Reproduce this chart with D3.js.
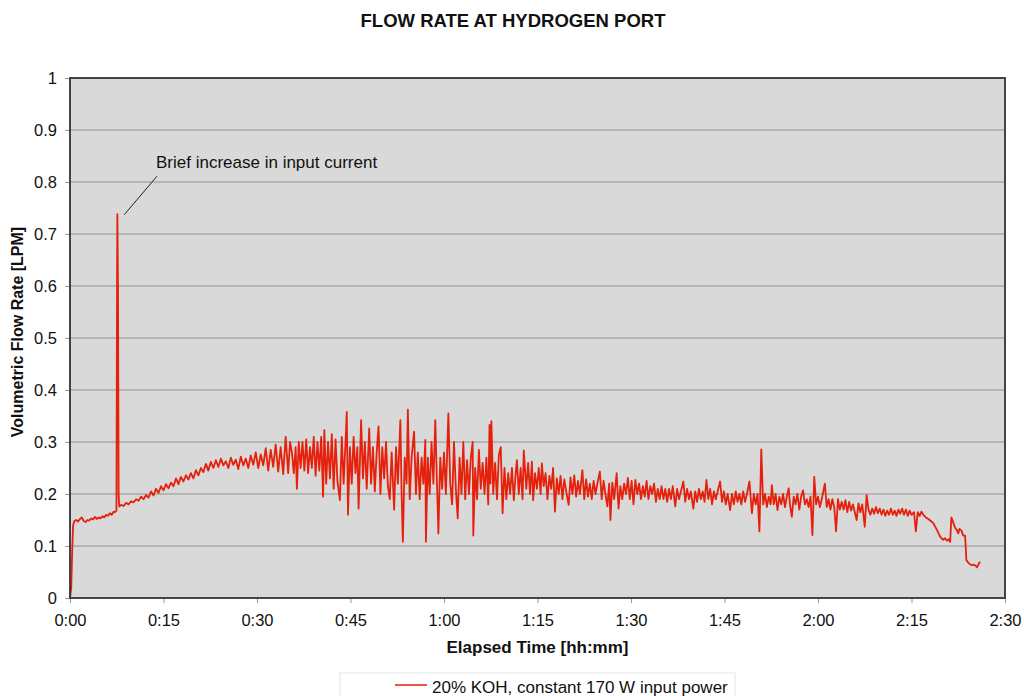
<!DOCTYPE html>
<html>
<head>
<meta charset="utf-8">
<script src="https://cdn.jsdelivr.net/npm/d3@7"></script>
<style>
  body { margin: 0; background: #fff; }
  svg { display: block; font-family: "Liberation Sans", Arial, sans-serif; }
</style>
</head>
<body>
<svg id="chart" width="1024" height="696"></svg>
<script>
// elapsed time [min], flow rate [LPM]
const flowReadings = [
  [0, 0], [0.2, 0.02], [0.35, 0.09], [0.5, 0.14], [0.7, 0.148], [1.0, 0.15], [1.3, 0.147], [1.6, 0.152],
  [1.9, 0.155], [2.2, 0.148], [2.5, 0.146], [2.8, 0.15], [3.1, 0.149], [3.4, 0.153], [3.7, 0.151], [4.0, 0.156],
  [4.3, 0.152], [4.6, 0.155], [4.9, 0.153], [5.2, 0.157], [5.5, 0.155], [5.8, 0.16], [6.1, 0.158], [6.4, 0.163],
  [6.7, 0.16], [7.0, 0.166], [7.2, 0.165], [7.45, 0.168], [7.55, 0.62], [7.6, 0.738], [7.7, 0.6], [7.8, 0.2],
  [7.9, 0.176], [8.2, 0.179], [8.6, 0.177], [9.0, 0.183], [9.4, 0.18], [9.8, 0.186], [10.2, 0.184], [10.6, 0.19],
  [11.0, 0.187], [11.4, 0.195], [11.8, 0.19], [12.2, 0.198], [12.6, 0.193], [13.0, 0.205], [13.4, 0.197], [13.8, 0.21],
  [14.2, 0.202], [14.6, 0.215], [15.0, 0.207], [15.4, 0.219], [15.8, 0.211], [16.2, 0.222], [16.6, 0.215], [17.0, 0.23],
  [17.4, 0.219], [17.8, 0.233], [18.2, 0.224], [18.6, 0.236], [19.0, 0.228], [19.4, 0.24], [19.8, 0.23], [20.2, 0.246],
  [20.6, 0.236], [21.0, 0.25], [21.4, 0.242], [21.8, 0.258], [22.2, 0.245], [22.6, 0.262], [23.0, 0.25], [23.4, 0.265],
  [23.8, 0.252], [24.2, 0.268], [24.6, 0.255], [25.0, 0.263], [25.4, 0.25], [25.8, 0.27], [26.2, 0.256], [26.6, 0.266],
  [27.0, 0.248], [27.4, 0.272], [27.8, 0.255], [28.2, 0.268], [28.6, 0.25], [29.0, 0.274], [29.4, 0.256], [29.8, 0.28],
  [30.2, 0.25], [30.6, 0.276], [31.0, 0.255], [31.4, 0.288], [31.8, 0.245], [32.2, 0.285], [32.6, 0.252], [33.0, 0.295],
  [33.4, 0.243], [33.8, 0.29], [34.2, 0.238], [34.6, 0.31], [35.0, 0.24], [35.3, 0.3], [35.6, 0.28], [35.9, 0.24],
  [36.2, 0.29], [36.4, 0.21], [36.7, 0.3], [37.0, 0.25], [37.3, 0.3], [37.6, 0.245], [37.9, 0.305], [38.2, 0.24],
  [38.5, 0.29], [38.8, 0.25], [39.1, 0.31], [39.4, 0.235], [39.7, 0.3], [40.0, 0.245], [40.3, 0.31], [40.6, 0.195],
  [40.8, 0.323], [41.1, 0.22], [41.4, 0.3], [41.7, 0.23], [42.0, 0.315], [42.3, 0.21], [42.6, 0.305], [42.9, 0.225],
  [43.3, 0.188], [43.6, 0.31], [43.9, 0.22], [44.2, 0.3], [44.4, 0.358], [44.6, 0.16], [44.9, 0.29], [45.2, 0.22],
  [45.5, 0.31], [45.8, 0.24], [46.1, 0.29], [46.3, 0.172], [46.7, 0.342], [47.0, 0.23], [47.3, 0.3], [47.6, 0.21],
  [48.0, 0.326], [48.3, 0.22], [48.6, 0.29], [48.9, 0.205], [49.2, 0.28], [49.5, 0.33], [49.8, 0.2], [50.1, 0.29],
  [50.4, 0.23], [50.7, 0.3], [51.0, 0.215], [51.3, 0.19], [51.6, 0.28], [52.0, 0.17], [52.3, 0.29], [52.6, 0.22],
  [53.0, 0.342], [53.2, 0.2], [53.4, 0.108], [53.7, 0.27], [54.0, 0.22], [54.2, 0.362], [54.5, 0.19], [54.8, 0.27],
  [55.2, 0.32], [55.5, 0.2], [55.8, 0.28], [56.1, 0.19], [56.4, 0.27], [56.7, 0.22], [57.0, 0.304], [57.1, 0.108],
  [57.4, 0.27], [57.7, 0.2], [58.0, 0.3], [58.3, 0.22], [58.6, 0.342], [58.9, 0.21], [59.1, 0.124], [59.4, 0.27],
  [59.7, 0.21], [60.0, 0.28], [60.3, 0.2], [60.7, 0.355], [61.0, 0.22], [61.3, 0.18], [61.6, 0.3], [61.9, 0.21],
  [62.2, 0.153], [62.5, 0.27], [62.8, 0.2], [63.1, 0.3], [63.4, 0.19], [63.7, 0.265], [64.0, 0.2], [64.3, 0.27],
  [64.6, 0.3], [64.7, 0.12], [65.0, 0.25], [65.3, 0.19], [65.6, 0.285], [65.9, 0.21], [66.2, 0.26], [66.5, 0.2],
  [66.8, 0.27], [67.1, 0.18], [67.3, 0.333], [67.45, 0.22], [67.6, 0.34], [67.9, 0.2], [68.2, 0.26], [68.5, 0.19],
  [68.8, 0.275], [69.1, 0.29], [69.4, 0.163], [69.7, 0.25], [70.0, 0.19], [70.3, 0.24], [70.6, 0.2], [70.9, 0.25],
  [71.2, 0.188], [71.5, 0.24], [71.7, 0.265], [72.0, 0.2], [72.3, 0.25], [72.6, 0.19], [72.8, 0.284], [73.2, 0.21],
  [73.5, 0.26], [73.8, 0.2], [74.1, 0.262], [74.3, 0.188], [74.6, 0.24], [74.9, 0.21], [75.2, 0.25], [75.5, 0.2],
  [75.7, 0.259], [76.0, 0.215], [76.3, 0.24], [76.6, 0.19], [76.9, 0.235], [77.2, 0.21], [77.5, 0.25], [77.8, 0.166],
  [78.1, 0.23], [78.4, 0.2], [78.7, 0.235], [79.0, 0.19], [79.3, 0.228], [79.6, 0.205], [80.0, 0.179], [80.3, 0.232],
  [80.6, 0.2], [80.9, 0.236], [81.2, 0.195], [81.5, 0.225], [81.8, 0.2], [82.2, 0.246], [82.5, 0.19], [82.8, 0.228],
  [83.1, 0.195], [83.4, 0.22], [83.7, 0.19], [84.0, 0.225], [84.3, 0.2], [84.6, 0.22], [85.0, 0.243], [85.3, 0.19],
  [85.6, 0.225], [85.9, 0.2], [86.2, 0.176], [86.5, 0.22], [86.7, 0.15], [87.0, 0.222], [87.3, 0.19], [87.7, 0.24],
  [88.0, 0.172], [88.3, 0.215], [88.6, 0.19], [88.9, 0.22], [89.2, 0.2], [89.5, 0.231], [89.8, 0.19], [90.1, 0.225],
  [90.4, 0.18], [90.7, 0.227], [91.0, 0.2], [91.3, 0.22], [91.6, 0.19], [91.9, 0.215], [92.2, 0.195], [92.5, 0.225],
  [92.8, 0.19], [93.1, 0.215], [93.4, 0.2], [93.7, 0.22], [94.0, 0.185], [94.3, 0.21], [94.6, 0.19], [94.9, 0.215],
  [95.2, 0.19], [95.5, 0.21], [95.8, 0.185], [96.1, 0.21], [96.4, 0.19], [96.7, 0.215], [97.1, 0.176], [97.4, 0.21],
  [97.7, 0.19], [98.0, 0.205], [98.4, 0.224], [98.7, 0.185], [99.0, 0.21], [99.3, 0.19], [99.6, 0.205], [100.0, 0.172],
  [100.3, 0.205], [100.6, 0.185], [100.9, 0.21], [101.2, 0.19], [101.5, 0.205], [101.8, 0.185], [102.1, 0.227], [102.4, 0.19],
  [102.7, 0.21], [103.0, 0.18], [103.3, 0.205], [103.6, 0.19], [104.0, 0.21], [104.3, 0.224], [104.6, 0.185], [104.9, 0.205],
  [105.2, 0.18], [105.5, 0.2], [105.9, 0.169], [106.2, 0.2], [106.5, 0.18], [106.8, 0.205], [107.1, 0.185], [107.4, 0.2],
  [107.7, 0.18], [108.0, 0.205], [108.3, 0.185], [108.6, 0.2], [109.0, 0.224], [109.4, 0.163], [109.7, 0.2], [110.0, 0.18],
  [110.3, 0.2], [110.6, 0.128], [110.9, 0.286], [111.2, 0.18], [111.5, 0.2], [111.8, 0.175], [112.1, 0.195], [112.4, 0.18],
  [112.6, 0.217], [112.9, 0.18], [113.2, 0.2], [113.5, 0.169], [113.8, 0.195], [114.1, 0.18], [114.4, 0.2], [114.7, 0.175],
  [115.0, 0.195], [115.3, 0.211], [115.5, 0.18], [115.8, 0.156], [116.1, 0.195], [116.4, 0.18], [116.7, 0.2], [117.0, 0.17],
  [117.3, 0.195], [117.6, 0.207], [117.9, 0.18], [118.2, 0.19], [118.5, 0.175], [118.8, 0.195], [119.1, 0.121], [119.4, 0.233],
  [119.7, 0.18], [120.0, 0.195], [120.3, 0.175], [120.6, 0.19], [121.1, 0.22], [121.4, 0.175], [121.7, 0.19], [122.0, 0.17],
  [122.3, 0.19], [122.6, 0.175], [122.9, 0.128], [123.2, 0.19], [123.5, 0.17], [123.8, 0.185], [124.1, 0.17], [124.4, 0.188],
  [124.7, 0.165], [125.0, 0.185], [125.3, 0.168], [125.6, 0.18], [125.9, 0.165], [126.2, 0.15], [126.5, 0.182], [126.8, 0.165],
  [127.1, 0.18], [127.5, 0.137], [127.8, 0.198], [128.1, 0.17], [128.4, 0.16], [128.7, 0.172], [129.0, 0.162], [129.3, 0.175],
  [129.6, 0.163], [129.9, 0.172], [130.2, 0.16], [130.5, 0.17], [130.8, 0.158], [131.1, 0.168], [131.4, 0.16], [131.7, 0.172],
  [132.0, 0.16], [132.3, 0.168], [132.6, 0.158], [132.9, 0.17], [133.2, 0.162], [133.5, 0.172], [133.8, 0.16], [134.1, 0.17],
  [134.4, 0.158], [134.7, 0.168], [135.0, 0.16], [135.4, 0.165], [135.7, 0.128], [136.0, 0.165], [136.3, 0.158], [136.6, 0.166],
  [136.9, 0.16], [137.3, 0.155], [137.7, 0.152], [138.1, 0.148], [138.5, 0.144], [138.9, 0.135], [139.2, 0.128], [139.5, 0.12],
  [139.8, 0.115], [140.1, 0.112], [140.4, 0.115], [140.7, 0.11], [141.0, 0.113], [141.2, 0.108], [141.4, 0.155], [141.7, 0.145],
  [142.0, 0.135], [142.3, 0.13], [142.5, 0.124], [142.7, 0.133], [143.0, 0.13], [143.3, 0.12], [143.6, 0.12], [143.8, 0.073],
  [144.1, 0.068], [144.4, 0.065], [144.7, 0.063], [145.0, 0.064], [145.3, 0.062], [145.5, 0.059], [145.8, 0.066], [146.0, 0.07]
];

const xTickMinutes = [0, 15, 30, 45, 60, 75, 90, 105, 120, 135, 150];
const xTickLabels = ["0:00", "0:15", "0:30", "0:45", "1:00", "1:15", "1:30", "1:45", "2:00", "2:15", "2:30"];
const yTickValues = [0, 0.1, 0.2, 0.3, 0.4, 0.5, 0.6, 0.7, 0.8, 0.9, 1];

const chartTitle = "FLOW RATE AT HYDROGEN PORT";
const xTitle = "Elapsed Time [hh:mm]";
const yTitle = "Volumetric Flow Rate [LPM]";
const seriesName = "20% KOH, constant 170 W input power";
const noteText = "Brief increase in input current";
// leader line: from the label down to the top of the spike [min, LPM]
const notePoint = [8.7, 0.737];
const noteLabel = [13.8, 0.815];

const width = 1024, height = 696;
const margin = {top: 78, right: 19, bottom: 98, left: 70};
const innerW = width - margin.left - margin.right;
const innerH = height - margin.top - margin.bottom;

const svg = d3.select("#chart");
const g = svg.append("g").attr("transform", `translate(${margin.left},${margin.top})`);

const x = d3.scaleLinear().domain([0, 150]).range([0, innerW]);
const y = d3.scaleLinear().domain([0, 1]).range([innerH, 0]);

// plot background
g.append("rect")
  .attr("width", innerW)
  .attr("height", innerH)
  .attr("fill", "#d9d9d9");

// gridlines
g.append("g")
  .selectAll("line")
  .data(yTickValues.filter(d => d > 0 && d < 1))
  .join("line")
  .attr("x1", 0)
  .attr("x2", innerW)
  .attr("y1", d => y(d))
  .attr("y2", d => y(d))
  .attr("stroke", "#a8a8a8")
  .attr("stroke-width", 1.6);

// axes
const xAxis = g.append("g")
  .attr("transform", `translate(0,${innerH})`)
  .call(d3.axisBottom(x)
    .tickValues(xTickMinutes)
    .tickFormat((d, i) => xTickLabels[i])
    .tickSize(5)
    .tickPadding(11));

const yAxis = g.append("g")
  .call(d3.axisLeft(y)
    .tickValues(yTickValues)
    .tickFormat(d => d3.format("")(+d.toFixed(1)))
    .tickSize(5)
    .tickPadding(8));

[xAxis, yAxis].forEach(a => {
  a.select(".domain").remove();
  a.selectAll(".tick line").attr("stroke", "#999").attr("stroke-width", 1);
  a.selectAll(".tick text")
    .attr("fill", "#111")
    .style("font-size", "16.5px")
    .style("font-family", "Liberation Sans, Arial, sans-serif");
});

// the data line
const line = d3.line()
  .x(d => x(d[0]))
  .y(d => y(d[1]));

g.append("path")
  .datum(flowReadings)
  .attr("fill", "none")
  .attr("stroke", "#e5200b")
  .attr("stroke-width", 1.8)
  .attr("stroke-linejoin", "round")
  .attr("d", line);

// plot border
g.append("rect")
  .attr("width", innerW)
  .attr("height", innerH)
  .attr("fill", "none")
  .attr("stroke", "#333")
  .attr("stroke-width", 1.8);

// annotation
g.append("line")
  .attr("x1", x(noteLabel[0]) + 1)
  .attr("y1", y(noteLabel[1]) + 2)
  .attr("x2", x(notePoint[0]))
  .attr("y2", y(notePoint[1]))
  .attr("stroke", "#222")
  .attr("stroke-width", 1);

g.append("text")
  .attr("x", x(noteLabel[0]))
  .attr("y", y(noteLabel[1]) - 6)
  .attr("font-size", 17)
  .attr("fill", "#111")
  .text(noteText);

// titles
svg.append("text")
  .attr("x", width / 2 + 1)
  .attr("y", 27)
  .attr("text-anchor", "middle")
  .attr("font-size", 18.5)
  .attr("font-weight", "bold")
  .attr("fill", "#111")
  .text(chartTitle);

svg.append("text")
  .attr("x", margin.left + innerW / 2)
  .attr("y", 653)
  .attr("text-anchor", "middle")
  .attr("font-size", 17)
  .attr("font-weight", "bold")
  .attr("fill", "#111")
  .text(xTitle);

svg.append("text")
  .attr("transform", `translate(23,${margin.top + innerH / 2 - 6}) rotate(-90)`)
  .attr("text-anchor", "middle")
  .attr("font-size", 16)
  .attr("font-weight", "bold")
  .attr("fill", "#111")
  .text(yTitle);

// legend
const legend = svg.append("g").attr("transform", "translate(340,673)");
legend.append("rect")
  .attr("width", 395)
  .attr("height", 40)
  .attr("fill", "#fff")
  .attr("stroke", "#e4e4e4")
  .attr("stroke-width", 1);
legend.append("line")
  .attr("x1", 55)
  .attr("x2", 87)
  .attr("y1", 12)
  .attr("y2", 12)
  .attr("stroke", "#e5200b")
  .attr("stroke-width", 1.5);
legend.append("text")
  .attr("x", 92)
  .attr("y", 20)
  .attr("font-size", 17)
  .attr("fill", "#111")
  .text(seriesName);
</script>
</body>
</html>
